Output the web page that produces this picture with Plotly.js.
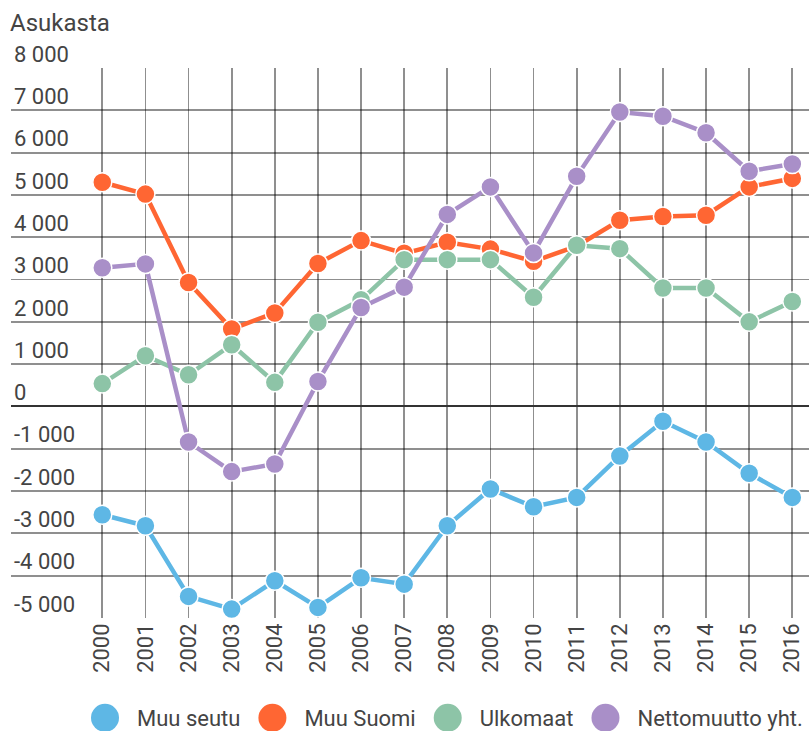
<!DOCTYPE html>
<html>
<head>
<meta charset="utf-8">
<script src="https://cdn.plot.ly/plotly-3.0.1.min.js"></script>
<style>html,body{margin:0;padding:0;background:#fff;}#chart{width:809px;height:731px;}</style>
</head>
<body>
<div id="chart"></div>
<script>
var years = [2000,2001,2002,2003,2004,2005,2006,2007,2008,2009,2010,2011,2012,2013,2014,2015,2016];
var yearLabels = years.map(String);
var muuSeutu = [-2560,-2820,-4490,-4790,-4120,-4750,-4050,-4200,-2820,-1950,-2370,-2150,-1170,-350,-840,-1580,-2150];
var muuSuomi = [5300,5020,2930,1830,2210,3380,3920,3620,3880,3720,3430,3790,4400,4490,4520,5190,5390];
var ulkomaat = [540,1200,750,1460,570,1990,2520,3470,3470,3470,2580,3810,3730,2800,2800,2000,2480];
var netto = [3280,3370,-840,-1540,-1360,590,2340,2820,4540,5190,3630,5440,6960,6860,6470,5560,5730];
var seriesNames = ['Muu seutu','Muu Suomi','Ulkomaat','Nettomuutto yht.'];
var seriesColors = ['#5eb7e5','#ff6633','#8dc4a7','#a98fc8'];
var yTickVals = [-5000,-4000,-3000,-2000,-1000,0,1000,2000,3000,4000,5000,6000,7000,8000];
var yTickText = ['-5 000','-4 000','-3 000','-2 000','-1 000','0','1 000','2 000','3 000','4 000','5 000','6 000','7 000','8 000'];
var yTitle = 'Asukasta';

var seriesValues = [muuSeutu, muuSuomi, ulkomaat, netto];
var traces = [];
seriesValues.forEach(function(vals, i){
  traces.push({
    x: years, y: vals, type: 'scatter', mode: 'lines+markers',
    name: seriesNames[i], showlegend: false,
    line: {color: seriesColors[i], width: 4.5},
    marker: {color: seriesColors[i], size: 19, line: {color: '#ffffff', width: 1.5}},
    hoverinfo: 'x+y+name'
  });
});
seriesValues.forEach(function(vals, i){
  traces.push({
    x: [null], y: [null], type: 'scatter', mode: 'markers',
    name: seriesNames[i], showlegend: true,
    marker: {color: seriesColors[i], size: 16}
  });
});

var textColor = '#444444';
var fam = 'Roboto, sans-serif';
var gridCol = 'rgba(0,0,0,0.44)';
var layout = {
  width: 809, height: 731,
  margin: {l: 11, r: 0, t: 68, b: 113, pad: 0},
  paper_bgcolor: '#ffffff', plot_bgcolor: '#ffffff',
  font: {family: fam, size: 22, color: textColor},
  title: {text: yTitle, x: 10/809, xanchor: 'left', xref: 'container',
          y: 1 - 23/731, yanchor: 'middle', yref: 'container',
          font: {family: fam, size: 24, color: textColor}},
  xaxis: {
    range: [1997.883, 2016.387], tickmode: 'array', tickvals: years, ticktext: yearLabels,
    tickangle: -90, showgrid: true, gridcolor: gridCol, gridwidth: 1.8,
    zeroline: false, showline: false, ticks: '', fixedrange: true,
    tickfont: {family: fam, size: 22, color: textColor}
  },
  yaxis: {
    range: [-5000, 8000], tickmode: 'array', tickvals: yTickVals, ticktext: yTickText,
    ticklabelposition: 'inside', ticklabelshift: -14, showgrid: true, gridcolor: gridCol, gridwidth: 1.8,
    zeroline: true, zerolinecolor: '#333333', zerolinewidth: 2, showline: false, ticks: '', fixedrange: true,
    tickfont: {family: fam, size: 22, color: textColor}
  },
  showlegend: true,
  legend: {
    orientation: 'h', xref: 'container', yref: 'container',
    x: 78/809, xanchor: 'left', y: 1 - 718/731, yanchor: 'middle',
    itemwidth: 49, font: {family: fam, size: 22, color: textColor},
    bgcolor: 'rgba(0,0,0,0)'
  }
};

function finish(){
  gd.querySelectorAll('.legend .traces').forEach(function(g){
    var t = g.querySelector('text.legendtext');
    var tx = t ? parseFloat(t.getAttribute('x')) : 60;
    g.querySelectorAll('path.scatterpts').forEach(function(p){
      p.setAttribute('transform', 'translate(' + (tx - 32) + ',0) scale(1.75)');
    });
  });
  // keep the top tick label (8 000) visible although it sits above the plot area
  gd.querySelectorAll('.ytick text').forEach(function(t){
    t.style.display = '';
    t.removeAttribute('display');
  });
}
var gd = document.getElementById('chart');
Plotly.newPlot(gd, traces, layout, {displayModeBar: false, staticPlot: true}).then(finish);
</script>
</body>
</html>
